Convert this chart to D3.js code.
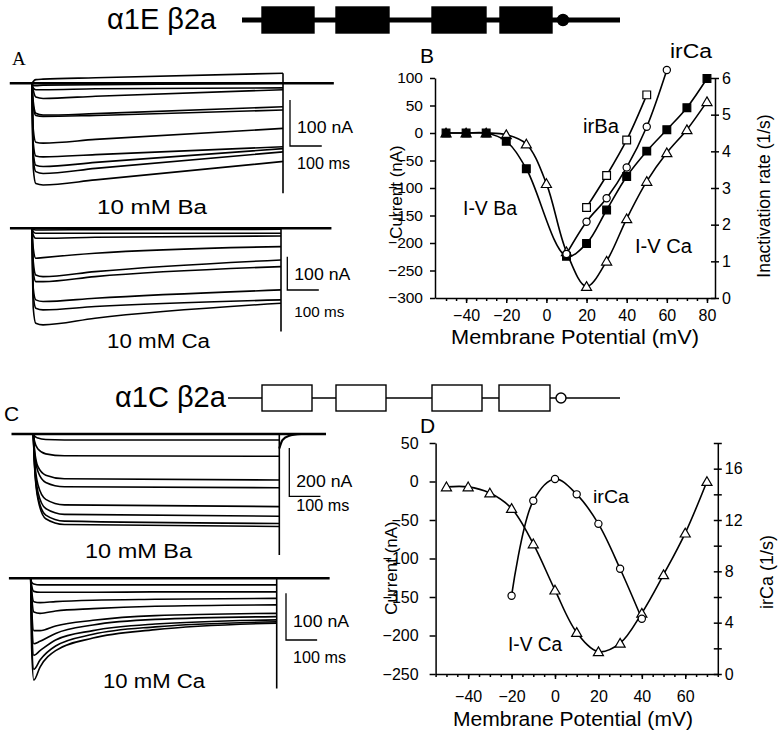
<!DOCTYPE html>
<html>
<head>
<meta charset="utf-8">
<script src="https://cdn.jsdelivr.net/npm/d3@7"></script>
<style>
  body { margin: 0; background: #fff; }
  svg { display: block; }
  text { font-family: "Liberation Sans", Arial, sans-serif; fill: #000; }
</style>
</head>
<body>
<svg id="fig" width="780" height="736"></svg>
<script>
// ---- current traces (nA) at the listed times (ms) of a 790 ms step ----
const pulseMs = 790;

const timesA = [0, 4, 12, 35, 200, 790];
const baTracesA = [
    [0, 4, 8, 9, 12, 22],
    [0, -4, -5, -4, -3, 0],
    [0, -10, -14, -14, -12, -10],
    [0, -15, -30, -33, -28, -14],
    [0, -40, -65, -69, -66, -51],
    [0, -50, -70, -72, -70, -58],
    [0, -100, -128, -130, -122, -98],
    [0, -130, -158, -160, -155, -138],
    [0, -150, -178, -181, -172, -142],
    [0, -165, -192, -196, -185, -149],
    [0, -185, -218, -221, -210, -170]
];
const caTracesA = [
    [0, -3, -5, -5, -4, -3],
    [0, -10, -15, -15, -15, -15],
    [0, -20, -30, -30, -27, -23],
    [0, -60, -90, -88, -75, -55],
    [0, -100, -140, -145, -130, -95],
    [0, -130, -160, -160, -145, -115],
    [0, -180, -215, -220, -210, -185],
    [0, -200, -240, -245, -235, -215],
    [0, -240, -285, -290, -270, -225]
];

const timesCBa = [0, 4, 15, 40, 100, 790];
const baTracesC = [
    [0, -8, -17, -23, -25, -25],
    [0, -30, -62, -82, -90, -92],
    [0, -65, -135, -170, -185, -190],
    [0, -75, -155, -200, -218, -222],
    [0, -105, -210, -270, -293, -300],
    [0, -118, -240, -308, -332, -340],
    [0, -128, -260, -335, -360, -370],
    [0, -135, -270, -350, -374, -382]
];

const timesCCa = [0, 3, 10, 30, 80, 200, 400, 790];
const caTracesC = [
    [0, -8, -12, -14, -14, -14, -14, -14],
    [0, -15, -28, -30, -30, -30, -29, -29],
    [0, -25, -50, -52, -50, -47, -45, -43],
    [0, -35, -72, -75, -70, -65, -60, -57],
    [0, -60, -112, -112, -102, -90, -80, -75],
    [0, -80, -140, -135, -118, -100, -88, -82],
    [0, -100, -165, -155, -132, -112, -98, -89],
    [0, -130, -195, -175, -145, -120, -104, -93],
    [0, -150, -218, -190, -155, -128, -110, -96]
];

// tail transients at the end of the step (nA)
const tailPeaks = { aBa: -239, aCa: -310, cBa: -500, cCa: -236 };
const tailTimesC = [790, 800, 820, 860];
const tailBaC = [-60, -25, -8, 0];

// ---- panel B : I-V and inactivation rate, alpha1E ----
const vBaB = [-50, -40, -30, -20, -10, 10, 20, 30, 40, 50, 60, 70, 80];
const iBaB = [0, 0, 0, -15, -65, -224, -201, -140, -79, -33, 6, 46, 99];
const vCaB = [-50, -40, -30, -20, -10, 0, 10, 20, 30, 40, 50, 60, 70, 80];
const iCaB = [0, 0, 0, -3, -20, -92, -216, -279, -233, -156, -88, -36, 6, 57];
const vIrBaB = [20, 30, 40, 50];
const irBaB = [2.47, 3.34, 4.31, 5.54];
const vIrCaB = [10, 20, 30, 40, 50, 60];
const irCaB = [1.2, 2.08, 2.72, 3.56, 4.67, 6.22];

// ---- panel D : I-V and inactivation rate, alpha1C ----
const vD = [-50, -40, -30, -20, -10, 0, 10, 20, 30, 40, 50, 60, 70];
const iCaD = [-7, -7, -15, -35, -81, -141, -196, -221, -210, -171, -121, -67, 0];
const vIrD = [-20, -10, 0, 10, 20, 30, 40];
const irCaD = [6.1, 13.5, 15.2, 14.0, 11.7, 8.2, 4.3];

// channel schematic: repeat domains (x extents) for both constructs
const domainsE = [[262, 314], [336, 389], [432, 486], [500, 552]];
const domainsC = [[262, 312], [336, 386], [432, 482], [499, 550]];

const svg = d3.select('#fig');

function txt(sel, x, y, s, size, anchor, width) {
    const t = sel.append('text')
        .attr('x', x)
        .attr('y', y)
        .attr('font-size', size)
        .attr('text-anchor', anchor || 'start')
        .text(s);
    // the scanned lettering is wider than Arial
    if (width) t.attr('textLength', width).attr('lengthAdjust', 'spacingAndGlyphs');
    return t;
}

function vtxt(sel, x, y, s, size) {
    return sel.append('text')
        .attr('transform', `translate(${x},${y}) rotate(-90)`)
        .attr('font-size', size)
        .attr('text-anchor', 'middle')
        .text(s);
}

// ---- schematics ----
function schematic(domains, y, filled, lineX) {
    const g = svg.append('g');
    const sw = filled ? 5 : 1.4;
    g.append('line')
        .attr('x1', lineX[0]).attr('x2', lineX[1])
        .attr('y1', y).attr('y2', y)
        .attr('stroke', '#000').attr('stroke-width', sw);
    domains.forEach(d => {
        g.append('rect')
            .attr('x', d[0]).attr('y', y - 13)
            .attr('width', d[1] - d[0]).attr('height', 26)
            .attr('fill', filled ? '#000' : '#fff')
            .attr('stroke', '#000').attr('stroke-width', 1.4);
    });
    const last = domains[domains.length - 1];
    g.append('circle')
        .attr('cx', last[1] + 11).attr('cy', y).attr('r', filled ? 5.5 : 5)
        .attr('fill', filled ? '#000' : '#fff')
        .attr('stroke', '#000').attr('stroke-width', 1.4);
}
schematic(domainsE, 20, true, [242, 620]);
schematic(domainsC, 398, false, [228, 620]);
txt(svg, 107, 29, 'α1E β2a', 29);
txt(svg, 115, 407, 'α1C β2a', 29);

// ---- trace panels ----
function tracePanel(p) {
    const g = svg.append('g');
    const x = d3.scaleLinear().domain([0, pulseMs]).range([p.x0, p.x1]);
    const y = d3.scaleLinear().domain([0, -100]).range([p.y0, p.y0 + p.px100]);
    const line = d3.line()
        .x((d, i) => x(p.times[i]))
        .y(d => y(d))
        .curve(d3.curveMonotoneX);

    // holding level
    g.append('line')
        .attr('x1', x(-70)).attr('x2', x(p.tEnd))
        .attr('y1', y(0)).attr('y2', y(0))
        .attr('stroke', '#000').attr('stroke-width', 2.6);

    p.traces.forEach(tr => {
        g.append('path')
            .attr('d', line(tr))
            .attr('fill', 'none')
            .attr('stroke', '#000')
            .attr('stroke-width', 1.6);
    });

    // step-off transient
    const top = d3.max(p.traces, tr => tr[tr.length - 1]);
    g.append('line')
        .attr('x1', x(pulseMs)).attr('x2', x(pulseMs))
        .attr('y1', y(Math.max(top, 0))).attr('y2', y(p.tail))
        .attr('stroke', '#000').attr('stroke-width', 1.6);

    if (p.tailTimes) {
        g.append('path')
            .attr('d', d3.line().x((d, i) => x(p.tailTimes[i])).y(d => y(d)).curve(d3.curveMonotoneX)(p.tailVals))
            .attr('fill', 'none').attr('stroke', '#000').attr('stroke-width', 2.2);
    }

    // scale bar
    const bx = p.bar[0], by = p.bar[1];
    const bh = y(-p.barNA) - y(0);
    const bw = x(100) - x(0);
    g.append('path')
        .attr('d', `M${bx},${by}V${by + bh}H${bx + bw}`)
        .attr('fill', 'none').attr('stroke', '#000').attr('stroke-width', 1.3);
    txt(g, bx + 7, p.naY, `${p.barNA} nA`, 16.5, 'start', 56);
    txt(g, bx + 7, p.msY, '100 ms', p.msSize || 16.5, 'start', p.msW || 53);
    txt(g, p.nameX, p.nameY, p.name, 20, 'start', p.nameW);
}

tracePanel({ times: timesA, traces: baTracesA, x0: 32, x1: 283, y0: 83.3, px100: 46, tEnd: 950,
    tail: tailPeaks.aBa, bar: [290, 100], barNA: 100, naY: 133, msY: 169,
    name: '10 mM Ba', nameX: 97, nameY: 214, nameW: 110 });
tracePanel({ times: timesA, traces: caTracesA, x0: 32, x1: 281, y0: 228.3, px100: 33.3, tEnd: 950,
    tail: tailPeaks.aCa, bar: [287.3, 256.7], barNA: 100, naY: 280, msY: 317, msSize: 14.5, msW: 50,
    name: '10 mM Ca', nameX: 107, nameY: 348, nameW: 103 });
tracePanel({ times: timesCBa, traces: baTracesC, x0: 33.3, x1: 279.3, y0: 434, px100: 24.2, tEnd: 940,
    tail: tailPeaks.cBa, tailTimes: tailTimesC, tailVals: tailBaC, bar: [289.3, 448], barNA: 200, naY: 487, msY: 511,
    name: '10 mM Ba', nameX: 85, nameY: 558, nameW: 107 });
tracePanel({ times: timesCCa, traces: caTracesC, x0: 30.7, x1: 276.7, y0: 578.3, px100: 46.7, tEnd: 960,
    tail: tailPeaks.cCa, bar: [286, 593.3], barNA: 100, naY: 627, msY: 663,
    name: '10 mM Ca', nameX: 103, nameY: 688, nameW: 102 });

svg.append('text').attr('x', 12).attr('y', 65).attr('font-size', 19)
    .style('font-family', '"Liberation Serif", serif').text('A');
txt(svg, 4, 421, 'C', 21);

// ---- I-V panels ----
const sqSym = d3.symbol().type(d3.symbolSquare).size(60);
const triSym = d3.symbol().type(d3.symbolTriangle).size(44);

function styleAxis(g, size) {
    g.attr('font-family', null).attr('font-size', size);
    g.selectAll('line, path').attr('stroke', '#000').attr('stroke-width', 1.5);
}

function curve(g, xs, ys, xScale, yScale) {
    g.append('path')
        .attr('d', d3.line().x((d, i) => xScale(xs[i])).y(d => yScale(d)).curve(d3.curveCatmullRom)(ys))
        .attr('fill', 'none').attr('stroke', '#000').attr('stroke-width', 1.6);
}

function markers(g, xs, ys, xScale, yScale, kind) {
    ys.forEach((v, i) => {
        const cx = xScale(xs[i]), cy = yScale(v);
        if (kind === 'circle') {
            g.append('circle').attr('cx', cx).attr('cy', cy).attr('r', 3.6)
                .attr('fill', '#fff').attr('stroke', '#000').attr('stroke-width', 1.2);
        } else if (kind === 'tri') {
            g.append('path').attr('d', triSym()).attr('transform', `translate(${cx},${cy + 1})`)
                .attr('fill', '#fff').attr('stroke', '#000').attr('stroke-width', 1.2);
        } else {
            g.append('path').attr('d', sqSym()).attr('transform', `translate(${cx},${cy})`)
                .attr('fill', kind === 'fsq' ? '#000' : '#fff').attr('stroke', '#000').attr('stroke-width', 1.2);
        }
    });
}

// panel B
(function () {
    const g = svg.append('g');
    const x = d3.scaleLinear().domain([-55.5, 84]).range([435, 715]);
    const y = d3.scaleLinear().domain([-300, 100]).range([298, 78]);
    const r = d3.scaleLinear().domain([0, 6]).range([298, 78]);

    const gl = g.append('g').attr('transform', 'translate(435,0)')
        .call(d3.axisLeft(y).tickValues(d3.range(-300, 101, 50)).tickSize(5).tickSizeOuter(0).tickPadding(7));
    styleAxis(gl, 15.5);
    const gr = g.append('g').attr('transform', 'translate(715,0)')
        .call(d3.axisRight(r).tickValues(d3.range(0, 7)).tickSize(4).tickSizeOuter(0).tickPadding(3)
            .tickFormat(d3.format('d')));
    styleAxis(gr, 16);
    gr.selectAll('.tick line').attr('x1', -4);
    const gb = g.append('g').attr('transform', 'translate(0,298)')
        .call(d3.axisBottom(x).tickValues(d3.range(-40, 81, 20)).tickSize(5).tickSizeOuter(0).tickPadding(7));
    styleAxis(gb, 16);
    const gm = g.append('g').attr('transform', 'translate(0,298)')
        .call(d3.axisBottom(x).tickValues(d3.range(-50, 84, 5)).tickSize(3).tickSizeOuter(0).tickFormat(''));
    styleAxis(gm, 16);
    gm.select('.domain').remove();

    curve(g, vCaB, iCaB, x, y);
    curve(g, vBaB, iBaB, x, y);
    curve(g, vIrBaB, irBaB, x, r);
    curve(g, vIrCaB, irCaB, x, r);
    markers(g, vCaB, iCaB, x, y, 'tri');
    markers(g, vBaB, iBaB, x, y, 'fsq');
    markers(g, vIrBaB, irBaB, x, r, 'osq');
    markers(g, vIrCaB, irCaB, x, r, 'circle');

    txt(g, 420, 63, 'B', 21);
    txt(g, 670, 58, 'irCa', 20, 'start', 42);
    txt(g, 583, 133, 'irBa', 20, 'start', 36);
    txt(g, 463, 215, 'I-V Ba', 20, 'start', 54);
    txt(g, 635, 253, 'I-V Ca', 20, 'start', 57);
    vtxt(g, 402, 192, 'Current (nA)', 17);
    vtxt(g, 770, 196, 'Inactivation rate (1/s)', 17.5);
    txt(g, 575, 344, 'Membrane Potential (mV)', 20.5, 'middle', 248);
})();

// panel D
(function () {
    const g = svg.append('g');
    const x = d3.scaleLinear().domain([-55, 75]).range([435.6, 717.8]);
    const y = d3.scaleLinear().domain([-250, 50]).range([674, 443]);
    const r = d3.scaleLinear().domain([0, 18]).range([674, 443]);

    const gl = g.append('g').attr('transform', 'translate(435.6,0)')
        .call(d3.axisLeft(y).tickValues(d3.range(-250, 51, 50)).tickSize(6).tickSizeOuter(0).tickPadding(11));
    styleAxis(gl, 16);
    const gr = g.append('g').attr('transform', 'translate(717.8,0)')
        .call(d3.axisRight(r).tickValues(d3.range(0, 19, 2)).tickSize(4).tickSizeOuter(0).tickPadding(3)
            .tickFormat(d => d % 4 === 0 && d <= 16 ? d : ''));
    styleAxis(gr, 16);
    gr.selectAll('.tick line').attr('x1', -4);
    const gb = g.append('g').attr('transform', 'translate(0,674)')
        .call(d3.axisBottom(x).tickValues(d3.range(-40, 61, 20)).tickSize(5).tickSizeOuter(0).tickPadding(12));
    styleAxis(gb, 16);
    const gm = g.append('g').attr('transform', 'translate(0,674)')
        .call(d3.axisBottom(x).tickValues(d3.range(-55, 76, 5)).tickSize(3).tickSizeOuter(0).tickFormat(''));
    styleAxis(gm, 16);
    gm.select('.domain').remove();

    curve(g, vD, iCaD, x, y);
    curve(g, vIrD, irCaD, x, r);
    markers(g, vD, iCaD, x, y, 'tri');
    markers(g, vIrD, irCaD, x, r, 'circle');

    txt(g, 420, 433, 'D', 21);
    txt(g, 593, 503, 'irCa', 19, 'start', 36);
    txt(g, 508, 651, 'I-V Ca', 19.5, 'start', 54);
    vtxt(g, 397, 568, 'Current (nA)', 17);
    vtxt(g, 773, 572, 'irCa (1/s)', 18);
    txt(g, 573, 726, 'Membrane Potential (mV)', 20.5, 'middle', 240);
})();
</script>
</body>
</html>
